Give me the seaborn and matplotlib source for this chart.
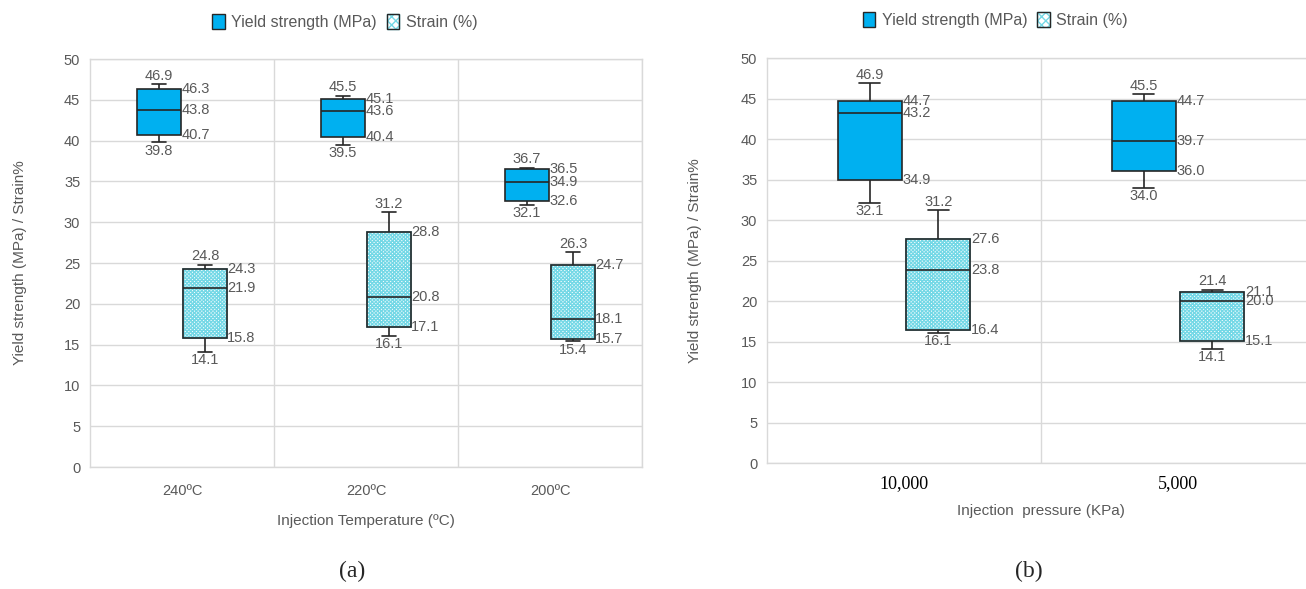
import numpy as np
import pandas as pd
import matplotlib
matplotlib.use("Agg")
import matplotlib.pyplot as plt
import seaborn as sns
from matplotlib.patches import PathPatch, Patch

# ---------------- data (five-number summaries: min, Q1, median, Q3, max) -------------
temps = ["240ºC", "220ºC", "200ºC"]
pressures = ["10,000", "5,000"]
series = ["Yield strength (MPa)", "Strain (%)"]

yield_temp = [[39.8, 40.7, 43.8, 46.3, 46.9],
              [39.5, 40.4, 43.6, 45.1, 45.5],
              [32.1, 32.6, 34.9, 36.5, 36.7]]
strain_temp = [[14.1, 15.8, 21.9, 24.3, 24.8],
               [16.1, 17.1, 20.8, 28.8, 31.2],
               [15.4, 15.7, 18.1, 24.7, 26.3]]
yield_pres = [[32.1, 34.9, 43.2, 44.7, 46.9],
              [34.0, 36.0, 39.7, 44.7, 45.5]]
strain_pres = [[16.1, 16.4, 23.8, 27.6, 31.2],
               [14.1, 15.1, 20.0, 21.1, 21.4]]

yticks = list(range(0, 51, 5))

# ---------------- style ----------------
sns.set_theme(style="white")
plt.rcParams["font.family"] = ["Liberation Sans", "DejaVu Sans"]
plt.rcParams["hatch.linewidth"] = 1.0

GRAY = "#595959"
GRID = "#D9D9D9"
EDGE = "#262626"
CYAN = "#00B0F0"
HATCH = "#74D8E6"


def make_df(cats, yvals, svals):
    rows = []
    for c, yv, sv in zip(cats, yvals, svals):
        for v in yv:
            rows.append((c, series[0], v))
        for v in sv:
            rows.append((c, series[1], v))
    return pd.DataFrame(rows, columns=["cat", "series", "value"])


def draw_panel(ax, cats, yvals, svals):
    df = make_df(cats, yvals, svals)
    sns.boxplot(data=df, x="cat", y="value", hue="series", order=cats,
                hue_order=series, palette={series[0]: CYAN, series[1]: "white"},
                saturation=1, width=0.5, gap=0.06, whis=(0, 100),
                linecolor=EDGE, linewidth=1.2, showfliers=False,
                legend=False, ax=ax, capwidths=0.075)
    boxes = [p for p in ax.patches if isinstance(p, PathPatch)]
    for p in boxes:
        ext = p.get_path().get_extents()
        xc = (ext.x0 + ext.x1) / 2
        ci = int(round(xc))
        is_yield = xc < ci
        vals = (yvals if is_yield else svals)[ci]
        if not is_yield:
            p.set_edgecolor(HATCH)
            p.set_hatch("x" * 9)
            outline = PathPatch(p.get_path(), transform=p.get_transform(),
                                fill=False, edgecolor=EDGE, lw=1.2,
                                zorder=p.get_zorder() + 0.05)
            ax.add_patch(outline)
        mn, q1, md, q3, mx = vals
        kw = dict(textcoords="offset points", color=GRAY, fontsize=10.5, zorder=5)
        ax.annotate(f"{mx:.1f}", (xc, mx), xytext=(0, 1), ha="center", va="bottom", **kw)
        ax.annotate(f"{mn:.1f}", (xc, mn), xytext=(0, -1), ha="center", va="top", **kw)
        for v in (q3, md, q1):
            ax.annotate(f"{v:.1f}", (ext.x1, v), xytext=(0.5, 0), ha="left", va="center", **kw)

    ax.set_ylim(0, 50)
    ax.set_xlim(-0.5, len(cats) - 0.5)
    ax.set_yticks(yticks)
    ax.set_xticks(np.arange(len(cats)) + 0.5, minor=True)
    ax.set_axisbelow(True)
    ax.grid(axis="y", which="major", color=GRID, lw=1.0)
    ax.grid(axis="x", which="minor", color=GRID, lw=1.0)
    ax.grid(axis="x", which="major", visible=False)
    for s in ax.spines.values():
        s.set_color(GRID)
        s.set_linewidth(1.0)
    ax.tick_params(axis="both", which="both", length=0)
    ax.tick_params(axis="y", labelsize=10.5, labelcolor=GRAY, pad=7)
    ax.set_ylabel("Yield strength (MPa) / Strain%", color=GRAY, fontsize=11)


fig = plt.figure(figsize=(13.06, 5.89), dpi=100)
axa = fig.add_axes([0.0689, 0.2071, 0.4227, 0.6927])
axb = fig.add_axes([0.5873, 0.2139, 0.4196, 0.6876])

draw_panel(axa, temps, yield_temp, strain_temp)
draw_panel(axb, pressures, yield_pres, strain_pres)

axa.tick_params(axis="x", labelsize=10.5, labelcolor=GRAY, pad=12)
axa.set_xlabel("Injection Temperature (ºC)", color=GRAY, fontsize=11, labelpad=12)
axb.tick_params(axis="x", labelsize=13, labelcolor="black", pad=9)
for t in axb.get_xticklabels():
    t.set_family(["Liberation Serif", "DejaVu Serif"])
axb.set_xlabel("Injection  pressure (KPa)", color=GRAY, fontsize=11, labelpad=8)

axa.yaxis.set_label_coords(-0.114, 0.5)
axb.yaxis.set_label_coords(-0.118, 0.5)

# legends
def legend_handles():
    h1 = Patch(facecolor=CYAN, edgecolor=EDGE, lw=1.0)
    h2a = Patch(facecolor="white", edgecolor=HATCH, hatch="xxxx", lw=1.0)
    h2b = Patch(facecolor="none", edgecolor=EDGE, lw=1.0)
    return [h1, (h2a, h2b)]

for cx, cy in [(0.264, 0.9626), (0.762, 0.966)]:
    fig.legend(legend_handles(), series, loc="center", bbox_to_anchor=(cx, cy),
               ncol=2, frameon=False, fontsize=11.5, labelcolor=GRAY,
               handlelength=0.8, handleheight=1.0, handletextpad=0.4,
               columnspacing=0.6)

fig.text(0.270, 0.029, "(a)", ha="center", va="center", fontsize=17,
         family=["Liberation Serif", "DejaVu Serif"])
fig.text(0.788, 0.029, "(b)", ha="center", va="center", fontsize=17,
         family=["Liberation Serif", "DejaVu Serif"])

fig.savefig("out.png", dpi=100)
